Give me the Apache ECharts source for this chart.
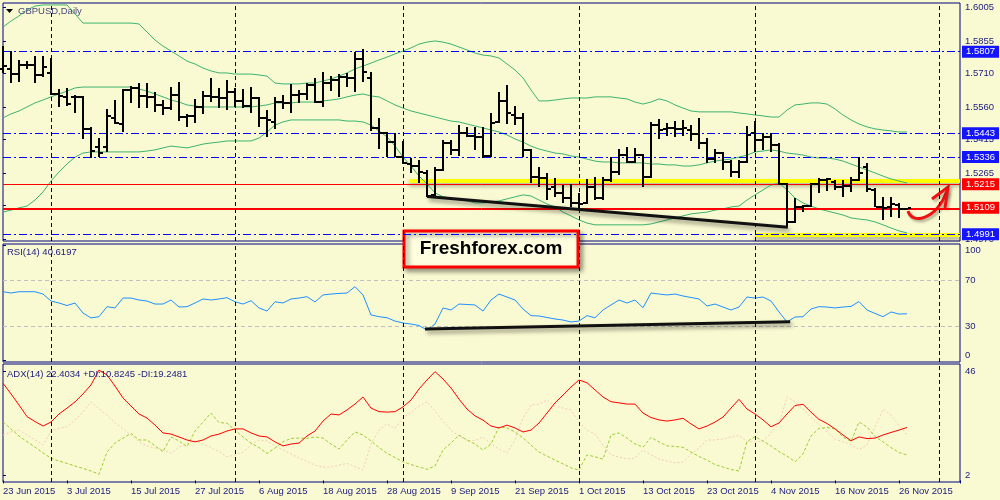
<!DOCTYPE html>
<html><head><meta charset="utf-8">
<script src="https://cdn.jsdelivr.net/npm/echarts@6/dist/echarts.min.js"></script>
<style>html,body{margin:0;padding:0;background:#FAFAD2}#c{width:1000px;height:500px}</style>
</head><body><div id="c"></div>
<script>
const tickLabels = ['23 Jun 2015','3 Jul 2015','15 Jul 2015','27 Jul 2015','6 Aug 2015','18 Aug 2015','28 Aug 2015','9 Sep 2015','21 Sep 2015','1 Oct 2015','13 Oct 2015','23 Oct 2015','4 Nov 2015','16 Nov 2015','26 Nov 2015'];
const opens = [1.5730,1.5730,1.5707,1.5748,1.5748,1.5703,1.5712,1.5618,1.5605,1.5605,
1.5605,1.5462,1.5381,1.5381,1.5511,1.5484,1.5636,1.5645,1.5609,1.5605,
1.5569,1.5555,1.5613,1.5515,1.5520,1.5560,1.5609,1.5605,1.5600,1.5627,
1.5587,1.5564,1.5600,1.5511,1.5493,1.5582,1.5578,1.5613,1.5618,1.5658,
1.5582,1.5667,1.5681,1.5694,1.5690,1.5774,1.5690,1.5466,1.5444,1.5403,
1.5336,1.5305,1.5296,1.5265,1.5167,1.5278,1.5399,1.5368,1.5444,1.5430,
1.5426,1.5341,1.5493,1.5587,1.5524,1.5511,1.5368,1.5247,1.5242,1.5202,
1.5176,1.5153,1.5131,1.5131,1.5202,1.5153,1.5234,1.5269,1.5345,1.5314,
1.5345,1.5247,1.5479,1.5462,1.5466,1.5462,1.5457,1.5439,1.5399,1.5327,
1.5354,1.5314,1.5269,1.5314,1.5444,1.5412,1.5426,1.5390,1.5216,1.5045,
1.5113,1.5117,1.5216,1.5234,1.5225,1.5202,1.5207,1.5234,1.5292,1.5189,
1.5113,1.5113,1.5122,1.5104];
const highs = [1.5832,1.5810,1.5770,1.5765,1.5788,1.5788,1.5779,1.5640,1.5645,1.5613,
1.5609,1.5471,1.5421,1.5551,1.5591,1.5640,1.5654,1.5667,1.5667,1.5627,
1.5591,1.5649,1.5672,1.5529,1.5596,1.5631,1.5690,1.5645,1.5681,1.5645,
1.5640,1.5649,1.5605,1.5546,1.5605,1.5613,1.5663,1.5636,1.5667,1.5690,
1.5716,1.5698,1.5707,1.5712,1.5806,1.5819,1.5716,1.5511,1.5448,1.5444,
1.5408,1.5332,1.5323,1.5278,1.5292,1.5412,1.5412,1.5479,1.5471,1.5471,
1.5471,1.5533,1.5627,1.5658,1.5564,1.5533,1.5372,1.5292,1.5265,1.5242,
1.5211,1.5216,1.5176,1.5238,1.5247,1.5247,1.5336,1.5372,1.5381,1.5377,
1.5350,1.5493,1.5506,1.5488,1.5497,1.5502,1.5479,1.5511,1.5421,1.5372,
1.5359,1.5323,1.5323,1.5475,1.5497,1.5444,1.5444,1.5399,1.5220,1.5153,
1.5122,1.5220,1.5242,1.5242,1.5234,1.5234,1.5247,1.5336,1.5310,1.5198,
1.5158,1.5158,1.5131,1.5109];
const lows = [1.5712,1.5667,1.5672,1.5730,1.5667,1.5694,1.5613,1.5560,1.5564,1.5533,
1.5417,1.5332,1.5336,1.5359,1.5484,1.5448,1.5578,1.5555,1.5555,1.5538,
1.5524,1.5546,1.5497,1.5471,1.5488,1.5529,1.5582,1.5555,1.5546,1.5560,
1.5555,1.5533,1.5471,1.5426,1.5462,1.5551,1.5533,1.5578,1.5591,1.5578,
1.5560,1.5631,1.5605,1.5649,1.5627,1.5672,1.5453,1.5372,1.5336,1.5336,
1.5305,1.5265,1.5220,1.5158,1.5162,1.5274,1.5345,1.5341,1.5426,1.5368,
1.5332,1.5336,1.5488,1.5484,1.5479,1.5336,1.5220,1.5202,1.5144,1.5158,
1.5131,1.5113,1.5108,1.5126,1.5144,1.5144,1.5225,1.5256,1.5310,1.5310,
1.5202,1.5242,1.5417,1.5430,1.5426,1.5430,1.5408,1.5372,1.5310,1.5310,
1.5278,1.5247,1.5242,1.5310,1.5359,1.5368,1.5359,1.5211,1.5023,1.5041,
1.5091,1.5113,1.5176,1.5185,1.5189,1.5158,1.5180,1.5229,1.5180,1.5113,
1.5055,1.5068,1.5064,1.5100];
const closes = [1.5743,1.5707,1.5748,1.5748,1.5703,1.5739,1.5618,1.5609,1.5573,1.5605,
1.5462,1.5363,1.5354,1.5520,1.5488,1.5636,1.5645,1.5609,1.5605,1.5569,
1.5555,1.5613,1.5515,1.5520,1.5560,1.5609,1.5605,1.5600,1.5627,1.5587,
1.5564,1.5600,1.5511,1.5502,1.5582,1.5578,1.5613,1.5618,1.5658,1.5582,
1.5667,1.5681,1.5694,1.5690,1.5774,1.5716,1.5466,1.5444,1.5403,1.5336,
1.5310,1.5296,1.5269,1.5162,1.5278,1.5399,1.5368,1.5444,1.5430,1.5426,
1.5341,1.5488,1.5587,1.5533,1.5511,1.5368,1.5247,1.5242,1.5194,1.5176,
1.5153,1.5131,1.5126,1.5202,1.5153,1.5234,1.5269,1.5345,1.5314,1.5345,
1.5247,1.5479,1.5457,1.5466,1.5462,1.5466,1.5439,1.5399,1.5327,1.5354,
1.5314,1.5269,1.5314,1.5435,1.5412,1.5426,1.5390,1.5216,1.5045,1.5113,
1.5117,1.5216,1.5234,1.5238,1.5202,1.5207,1.5234,1.5265,1.5194,1.5113,
1.5108,1.5126,1.5104,1.5109];
const bbUpper = [1.5917,1.5944,1.5967,1.5993,1.6011,1.6016,1.6016,1.6016,1.6016,1.5976,
1.5935,1.5935,1.5935,1.5935,1.5935,1.5935,1.5935,1.5931,1.5895,1.5859,
1.5832,1.5810,1.5788,1.5765,1.5752,1.5734,1.5721,1.5712,1.5712,1.5707,
1.5707,1.5707,1.5703,1.5698,1.5667,1.5663,1.5663,1.5663,1.5667,1.5667,
1.5676,1.5685,1.5698,1.5712,1.5730,1.5743,1.5756,1.5770,1.5783,1.5797,
1.5810,1.5824,1.5841,1.5850,1.5855,1.5850,1.5841,1.5828,1.5815,1.5801,
1.5792,1.5788,1.5779,1.5752,1.5725,1.5690,1.5636,1.5587,1.5587,1.5591,
1.5596,1.5600,1.5600,1.5600,1.5605,1.5605,1.5605,1.5600,1.5596,1.5582,
1.5573,1.5582,1.5596,1.5587,1.5569,1.5555,1.5542,1.5538,1.5538,1.5538,
1.5538,1.5538,1.5533,1.5529,1.5524,1.5520,1.5515,1.5515,1.5546,1.5569,
1.5573,1.5578,1.5578,1.5573,1.5551,1.5524,1.5502,1.5484,1.5471,1.5462,
1.5457,1.5453,1.5448,1.5448];
const bbMiddle = [1.5511,1.5529,1.5542,1.5560,1.5578,1.5591,1.5605,1.5618,1.5631,1.5645,
1.5649,1.5649,1.5649,1.5649,1.5649,1.5649,1.5649,1.5640,1.5631,1.5618,
1.5605,1.5591,1.5582,1.5569,1.5564,1.5560,1.5560,1.5560,1.5560,1.5560,
1.5560,1.5560,1.5564,1.5569,1.5578,1.5578,1.5578,1.5582,1.5582,1.5582,
1.5587,1.5591,1.5596,1.5605,1.5613,1.5618,1.5609,1.5605,1.5587,1.5569,
1.5555,1.5542,1.5533,1.5524,1.5515,1.5506,1.5497,1.5493,1.5484,1.5475,
1.5466,1.5457,1.5448,1.5435,1.5417,1.5403,1.5385,1.5372,1.5363,1.5354,
1.5350,1.5341,1.5336,1.5327,1.5318,1.5314,1.5314,1.5310,1.5310,1.5310,
1.5310,1.5305,1.5305,1.5301,1.5301,1.5296,1.5296,1.5301,1.5310,1.5318,
1.5323,1.5327,1.5336,1.5345,1.5359,1.5363,1.5368,1.5363,1.5354,1.5350,
1.5345,1.5336,1.5332,1.5332,1.5327,1.5318,1.5305,1.5292,1.5278,1.5265,
1.5251,1.5238,1.5229,1.5220];
const bbLower = [1.5090,1.5099,1.5109,1.5117,1.5144,1.5180,1.5229,1.5269,1.5305,1.5336,
1.5354,1.5359,1.5359,1.5359,1.5359,1.5359,1.5359,1.5359,1.5363,1.5368,
1.5377,1.5385,1.5381,1.5377,1.5385,1.5394,1.5399,1.5403,1.5408,1.5408,
1.5408,1.5408,1.5421,1.5448,1.5479,1.5493,1.5502,1.5502,1.5502,1.5502,
1.5502,1.5502,1.5502,1.5497,1.5497,1.5493,1.5479,1.5453,1.5426,1.5385,
1.5336,1.5296,1.5251,1.5216,1.5176,1.5158,1.5153,1.5144,1.5140,1.5131,
1.5131,1.5135,1.5140,1.5149,1.5158,1.5167,1.5162,1.5144,1.5126,1.5113,
1.5090,1.5073,1.5055,1.5041,1.5033,1.5033,1.5033,1.5033,1.5033,1.5033,
1.5033,1.5037,1.5046,1.5055,1.5064,1.5073,1.5082,1.5086,1.5090,1.5099,
1.5104,1.5113,1.5117,1.5144,1.5167,1.5189,1.5211,1.5220,1.5189,1.5153,
1.5131,1.5117,1.5104,1.5095,1.5086,1.5077,1.5064,1.5059,1.5055,1.5046,
1.5033,1.5019,1.5006,1.4997];
const rsi = [59.8,58.7,59.8,59.8,59.8,57.8,51.7,50.0,47.8,50.0,
41.3,37.0,38.1,46.8,45.7,54.3,54.3,52.6,51.7,49.1,
49.1,52.6,46.5,46.8,50.0,53.5,52.6,53.5,54.6,51.1,
49.1,52.0,45.7,43.0,51.1,50.0,53.5,54.3,55.5,50.9,
57.0,57.8,58.3,58.7,64.2,57.0,39.6,38.1,37.2,34.3,
32.6,31.7,30.4,26.5,31.7,45.7,43.9,49.1,48.7,48.3,
43.0,52.6,57.8,55.2,52.6,44.8,39.0,38.7,37.4,36.1,
35.2,33.5,34.3,39.0,37.2,43.9,48.3,52.6,50.0,52.6,
45.9,58.7,57.8,57.0,57.8,56.1,54.8,53.5,47.4,49.1,
46.5,43.9,46.5,55.2,54.3,55.2,51.7,42.2,33.5,37.8,
38.1,44.8,46.8,46.5,45.7,46.5,47.0,51.3,43.9,40.9,
38.1,42.2,40.4,40.6];
const adx = [41.1,36.6,31.9,27.0,24.9,23.0,24.7,28.1,30.6,33.2,
36.6,40.4,46.7,44.6,39.9,34.9,31.5,28.1,26.4,23.4,
20.1,19.6,18.4,17.1,16.3,17.1,18.8,19.6,20.9,21.8,
21.8,20.1,18.8,18.4,16.3,14.6,15.4,15.8,18.8,20.9,
25.1,28.1,27.7,29.8,32.3,35.3,30.6,29.1,28.9,29.1,
31.1,34.0,38.7,42.5,46.0,42.9,39.1,34.4,30.2,27.3,
25.5,23.0,22.2,23.4,22.2,20.5,21.3,24.3,28.5,32.8,
36.1,39.5,42.5,41.3,38.3,35.3,33.3,32.8,32.3,32.3,
28.5,26.6,25.6,25.1,25.6,26.3,23.9,21.8,23.0,24.7,
26.8,30.6,34.3,30.2,28.1,25.6,22.7,24.3,28.1,31.7,
32.2,28.9,25.8,24.1,21.8,19.2,16.8,18.4,17.7,17.9,
19.2,20.3,21.3,22.4];
const plusDI = [24.8,21.8,18.8,16.4,14.1,11.6,9.4,8.2,7.2,6.1,
5.1,4.0,2.6,12.0,15.8,17.9,19.9,17.1,17.1,14.6,
12.2,18.4,16.7,14.3,20.9,24.7,28.5,24.5,24.2,21.3,
18.4,15.8,13.9,11.4,13.7,16.3,17.8,17.9,17.8,18.4,
17.9,15.4,13.3,17.1,20.5,19.2,16.7,13.9,11.5,9.7,
7.9,6.7,5.7,4.7,6.1,12.9,15.8,19.2,17.1,15.4,
12.9,15.4,22.6,22.2,20.5,18.0,15.0,12.0,10.3,8.6,
7.0,5.3,4.4,10.8,10.0,9.0,19.2,20.1,17.9,15.4,
14.1,18.2,16.3,14.6,14.4,14.0,12.0,10.1,8.6,6.7,
5.7,4.6,4.0,16.4,18.5,16.7,14.6,12.2,10.3,7.9,
11.2,18.8,22.0,22.4,21.8,18.4,16.5,24.7,22.6,18.6,
16.3,13.9,11.8,10.8];
const minusDI = [19.2,20.5,21.3,19.2,17.1,15.0,20.9,22.0,22.7,25.6,
28.9,33.3,30.2,27.7,24.3,21.8,19.2,16.3,14.6,13.7,
12.9,11.5,14.1,15.8,16.9,15.4,13.9,12.2,10.0,10.8,
12.0,15.0,17.1,16.7,14.6,12.9,11.2,9.5,8.0,6.5,
5.6,5.7,6.5,7.2,5.9,4.4,15.4,21.3,23.9,22.0,
26.4,28.9,31.5,33.3,29.4,25.1,21.3,18.8,16.9,16.9,
18.4,15.4,13.3,11.6,17.1,26.4,31.9,32.3,34.0,31.5,
30.6,29.8,24.7,21.3,19.6,14.9,10.8,9.9,9.1,9.5,
12.9,10.8,9.1,8.2,7.4,7.8,11.2,13.7,17.1,17.1,
17.5,18.4,19.0,16.4,16.4,16.4,20.1,23.9,35.3,33.2,
30.2,26.6,23.7,20.5,17.5,16.4,15.2,13.1,15.0,22.7,
30.1,27.7,23.4,19.2];
const priceTicks = [1.6005,1.5855,1.5710,1.5560,1.5415,1.5265,1.5120,1.4970];
const blueLevels = [1.5807,1.5443,1.5336,1.4991];
const redLevels = [1.5215,1.5109];
const redExtra = [1.5101];
const monthStarts = [6,29,50,72,94,117];
const rsiLevels = [70,30];
const rsiTicks = [100,70,30,0];
const adxTicks = [46,2];
const priceTrend = [[53,1.5160],[98.1,1.5022]];
const rsiTrend = [[52.75,27.4],[98.4,33.7]];
const yellowZones = [[50.75,1.5229],[94,1.4988]];

const FONT = 'Liberation Sans';
const NAVY = '#000080';
const TXT = '#1a1a80';
const XMAX = 119.625;
const idx = a => a.map((v,i)=>[i,v]);
const ohlc = opens.map((o,i)=>[i,o,highs[i],lows[i],closes[i]]);

const chart = echarts.init(document.getElementById('c'), null, {renderer:'canvas'});
const gridBase = {left:3, width:957, show:true, borderColor:NAVY, borderWidth:1, backgroundColor:'transparent'};
const monthLine = () => ({silent:true, symbol:'none', animation:false, label:{show:false},
  lineStyle:{color:'#00004a', type:[4,3], width:1}, data: monthStarts.map(v=>({xAxis:v}))});
const xBase = (g, show) => ({type:'value', gridIndex:g, min:0, max:XMAX, interval:8,
  axisLine:{show:false}, splitLine:{show:false},
  axisTick:{show:show, length:3, lineStyle:{color:NAVY}},
  axisLabel:{show:show, align:'left', margin:4, color:TXT, fontSize:9.5, fontFamily:FONT,
    formatter: v => { const k = Math.round(v); return (k%8===0 && k/8 < tickLabels.length && Math.abs(v-k)<1e-6) ? tickLabels[k/8] : ''; }}});
const tagLabel = (bg) => ({show:true, position:'end', distance:2, color:'#fff', backgroundColor:bg,
  padding:[1,4,0,4], fontSize:9.5, lineHeight:11, fontFamily:FONT, formatter: p => Number(p.value).toFixed(4)});

const option = {
  animation:false,
  backgroundColor:'#FAFAD2',
  grid:[
    Object.assign({top:3, height:238}, gridBase),
    Object.assign({top:244, height:118}, gridBase),
    Object.assign({top:364, height:118}, gridBase)
  ],
  xAxis:[xBase(0,false), xBase(1,false), xBase(2,true)],
  yAxis:[
    {type:'value', gridIndex:0, position:'right', min:1.49608, max:1.60247, splitLine:{show:false},
      axisLine:{show:false},
      axisTick:{show:true, length:3, customValues:priceTicks, lineStyle:{color:NAVY}},
      axisLabel:{customValues:priceTicks, margin:5, color:TXT, fontSize:9.5, fontFamily:FONT, formatter:v=>v.toFixed(4)}},
    {type:'value', gridIndex:1, position:'right', min:-1.3, max:101.3, splitLine:{show:false},
      axisLine:{show:false},
      axisTick:{show:true, length:3, customValues:rsiTicks, lineStyle:{color:NAVY}},
      axisLabel:{customValues:rsiTicks, margin:5, color:TXT, fontSize:9.5, fontFamily:FONT,
        formatter:v => v===100 ? '{a|100}' : (v===0 ? '{b|0}' : String(v)),
        rich:{a:{padding:[9,0,0,0], color:TXT, fontSize:9.5, fontFamily:FONT}, b:{padding:[0,0,11,0], color:TXT, fontSize:9.5, fontFamily:FONT}}}},
    {type:'value', gridIndex:2, position:'right', min:-0.665, max:49.25, splitLine:{show:false},
      axisLine:{show:false},
      axisTick:{show:true, length:3, customValues:adxTicks, lineStyle:{color:NAVY}},
      axisLabel:{customValues:adxTicks, margin:5, color:TXT, fontSize:9.5, fontFamily:FONT}}
  ],
  series:[
    {type:'line', name:'bbLower', xAxisIndex:0, yAxisIndex:0, data:idx(bbLower), symbol:'none', z:3,
      lineStyle:{color:'#3CB371', width:1},
      markLine:{silent:true, symbol:'none', z:2, label:{show:false}, precision:4,
        lineStyle:{color:'#FFFF00', width:4, type:'solid', shadowColor:'rgba(0,0,0,0.35)', shadowBlur:4, shadowOffsetY:3},
        data: yellowZones.map(z=>[{coord:[z[0],z[1]]},{coord:[XMAX,z[1]]}])}},
    {type:'line', name:'bbMiddle', xAxisIndex:0, yAxisIndex:0, data:idx(bbMiddle), symbol:'none', z:3,
      lineStyle:{color:'#3CB371', width:1},
      markLine:{silent:true, symbol:'none', precision:4,
        data: blueLevels.map(v=>({yAxis:v, lineStyle:{color:'#0000FF', type:[8,3,2,3], width:1}, label:tagLabel('#1414FF')}))
          .concat(redLevels.map(v=>({yAxis:v, lineStyle:{color:'#FF0000', type:'solid', width:1}, label:tagLabel('#FF0000')})))
          .concat(redExtra.map(v=>({yAxis:v, lineStyle:{color:'#FF0000', type:'solid', width:1}, label:{show:false}})))}},
    {type:'line', name:'bbUpper', xAxisIndex:0, yAxisIndex:0, data:idx(bbUpper), symbol:'none', z:3,
      lineStyle:{color:'#3CB371', width:1}, markLine:monthLine()},
    {type:'custom', name:'GBPUSD', xAxisIndex:0, yAxisIndex:0, data:ohlc, z:5,
      encode:{x:0, y:[1,2,3,4]},
      renderItem:function(params, api){
        const i = api.value(0);
        const pH = api.coord([i, api.value(2)]), pL = api.coord([i, api.value(3)]);
        const pO = api.coord([i, api.value(1)]), pC = api.coord([i, api.value(4)]);
        const cx = Math.round(pH[0]);
        const yH = Math.round(pH[1]), yL = Math.round(pL[1]), yO = Math.round(pO[1]), yC = Math.round(pC[1]);
        return {type:'group', children:[
          {type:'rect', shape:{x:cx-1, y:yH, width:2, height:Math.max(1,yL-yH)}, style:{fill:'#000'}},
          {type:'rect', shape:{x:cx-4, y:yO-1, width:3, height:2}, style:{fill:'#000'}},
          {type:'rect', shape:{x:cx+1, y:yC-1, width:3, height:2}, style:{fill:'#000'}}
        ]};
      }},
    {type:'line', name:'trend', xAxisIndex:0, yAxisIndex:0, data:priceTrend, symbol:'none', z:6,
      lineStyle:{color:'#111', width:3, shadowColor:'rgba(0,0,0,0.45)', shadowBlur:4, shadowOffsetX:2, shadowOffsetY:3}},
    {type:'line', name:'RSI', xAxisIndex:1, yAxisIndex:1, data:idx(rsi), symbol:'none', z:4,
      lineStyle:{color:'#1E90FF', width:1},
      markLine:{silent:true, symbol:'none', label:{show:false},
        data: rsiLevels.map(v=>({yAxis:v, lineStyle:{color:'#C0C0C0', type:[4,3], width:1}}))
          .concat(monthStarts.map(v=>({xAxis:v, lineStyle:{color:'#00004a', type:[4,3], width:1}})))}},
    {type:'line', name:'rsiTrend', xAxisIndex:1, yAxisIndex:1, data:rsiTrend, symbol:'none', z:6,
      lineStyle:{color:'#111', width:3, shadowColor:'rgba(0,0,0,0.45)', shadowBlur:4, shadowOffsetX:2, shadowOffsetY:3}},
    {type:'line', name:'-DI', xAxisIndex:2, yAxisIndex:2, data:idx(minusDI), symbol:'none', z:3,
      lineStyle:{color:'#F3CDB8', width:1, type:[2,2]}, markLine:monthLine()},
    {type:'line', name:'+DI', xAxisIndex:2, yAxisIndex:2, data:idx(plusDI), symbol:'none', z:4,
      lineStyle:{color:'#9ACD32', width:1, type:[3,2]}},
    {type:'line', name:'ADX', xAxisIndex:2, yAxisIndex:2, data:idx(adx), symbol:'none', z:5,
      lineStyle:{color:'#FF0000', width:1}}
  ],
  graphic:[
    {type:'polygon', shape:{points:[[6,9],[13,9],[9.5,13]]}, style:{fill:'#000'}, z:10},
    {type:'text', x:18, y:11, style:{text:'GBPUSD,Daily', fill:'#4a4a7e', font:'9.5px "Liberation Sans"', textVerticalAlign:'middle'}, z:10},
    {type:'text', x:7, y:252, style:{text:'RSI(14) 40.6197', fill:TXT, font:'9.5px "Liberation Sans"', textVerticalAlign:'middle'}, z:10},
    {type:'text', x:7, y:374, style:{text:'ADX(14) 22.4034 +DI:10.8245 -DI:19.2481', fill:TXT, font:'9.5px "Liberation Sans"', textVerticalAlign:'middle'}, z:10},
    {type:'group', z:20, children:[
      {type:'rect', shape:{x:404, y:231, width:174, height:36}, style:{fill:'#FFFFE0', stroke:'#FF0000', lineWidth:3,
        shadowColor:'rgba(0,0,0,0.4)', shadowBlur:5, shadowOffsetX:3, shadowOffsetY:3}},
      {type:'text', x:491, y:249, style:{text:'Freshforex.com', fill:'#000', font:'bold 19px "Liberation Sans"', textAlign:'center', textVerticalAlign:'middle'}}
    ]},
    {type:'group', z:20, children:[
      {type:'bezierCurve', shape:{x1:908, y1:211, cpx1:912, cpy1:225, cpx2:936, cpy2:220, x2:947, y2:191},
        style:{stroke:'#EE1111', lineWidth:3, fill:null, shadowColor:'rgba(0,0,0,0.35)', shadowBlur:3, shadowOffsetX:2, shadowOffsetY:2}},
      {type:'polyline', shape:{points:[[932,199],[948,187],[945,208]]},
        style:{stroke:'#EE1111', lineWidth:3, fill:null, shadowColor:'rgba(0,0,0,0.35)', shadowBlur:3, shadowOffsetX:2, shadowOffsetY:2}}
    ]}
  ]
};
chart.setOption(option);
</script></body></html>
